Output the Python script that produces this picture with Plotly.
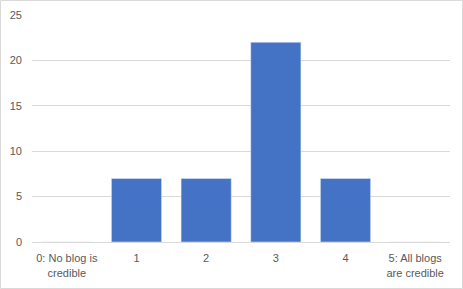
import plotly.graph_objects as go

categories = ["0: No blog is<br>credible", "1", "2", "3", "4", "5: All blogs<br>are credible"]
values = [0, 7, 7, 22, 7, 0]
y_ticks = [0, 5, 10, 15, 20, 25]

W, H = 463, 289
ml, mr, mt, mb = 32, 13, 15, 47
pw, ph = W - ml - mr, H - mt - mb

fig = go.Figure(go.Bar(x=categories, y=values, marker_color="#4472C4", width=0.72))

fig.update_layout(
    width=W, height=H,
    margin=dict(l=ml, r=mr, t=mt, b=mb),
    paper_bgcolor="white", plot_bgcolor="white",
    font=dict(family="Liberation Sans, Arial, sans-serif", size=11, color="#595959"),
    showlegend=False,
    bargap=0.28,
    xaxis=dict(showgrid=False, showline=True, linecolor="#d9d9d9", linewidth=1,
               ticks="", tickfont=dict(size=11, color="#595959"), automargin=False,
               ticklabelstandoff=6),
    yaxis=dict(range=[0, 25], tickvals=y_ticks, showgrid=True, gridcolor="#d9d9d9",
               gridwidth=1, zeroline=False, showline=False, ticks="", automargin=False,
               tickfont=dict(size=11, color="#595959"), ticklabelstandoff=9),
    shapes=[dict(type="rect", xref="paper", yref="paper",
                 x0=(0.5 - ml) / pw, x1=(W - 0.5 - ml) / pw,
                 y0=(H - mb - (H - 0.5)) / ph, y1=(H - mb - 0.5) / ph,
                 line=dict(color="#d9d9d9", width=1), fillcolor="rgba(0,0,0,0)", layer="below")],
)

fig.write_html("out.html", config={"displayModeBar": False},
               post_script="document.body.style.margin='0';document.body.style.overflow='hidden';")
